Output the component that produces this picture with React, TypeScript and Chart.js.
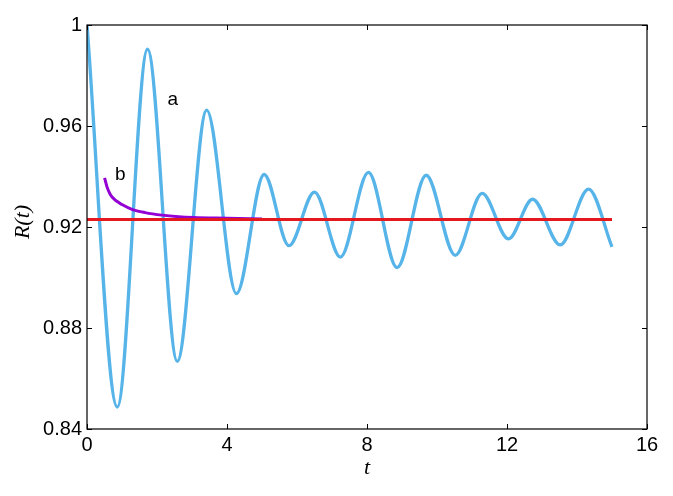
import React, { useEffect, useRef } from "react";
import { Chart, registerables } from "chart.js";

Chart.register(...registerables);

// Curve a: oscillating R(t) (extrema)
const aT = [0, 0.865, 1.73, 2.58, 3.42, 4.27, 5.06, 5.77, 6.5, 7.24, 8.04, 8.86, 9.69, 10.52, 11.29, 12.04, 12.73, 13.52, 14.33, 15.0];
const aR = [1.0, 0.8487, 0.9904, 0.8668, 0.9663, 0.8936, 0.9408, 0.9126, 0.9338, 0.9081, 0.9416, 0.9039, 0.9405, 0.9088, 0.9333, 0.9153, 0.931, 0.9129, 0.935, 0.9121];

// Curve b: relaxing approximation
const bT = [0.502, 0.571, 0.665, 0.808, 0.999, 1.284, 1.664, 2.14, 2.614, 3.04, 4.0, 5.0];
const bR = [0.9395, 0.9359, 0.9329, 0.9306, 0.9289, 0.927, 0.9257, 0.9247, 0.9241, 0.9238, 0.9235, 0.9232];

// Asymptotic level
const cT = [0, 15];
const cR = [0.923, 0.923];

const xTicks = [0, 4, 8, 12, 16];
const xTickLabels = ["0", "4", "8", "12", "16"];
const yTicks = [0.84, 0.88, 0.92, 0.96, 1.0];
const yTickLabels = ["0.84", "0.88", "0.92", "0.96", "1"];

const xTitle = "t";
const yTitle = "R(t)";

const labels = [
  { text: "a", t: 2.45, r: 0.9705 },
  { text: "b", t: 0.95, r: 0.9405 },
];

const pts = (xs: number[], ys: number[]) => xs.map((x, i) => ({ x, y: ys[i] }));

const framePlugin = {
  id: "frame",
  afterDatasetsDraw(chart: any) {
    const { ctx, chartArea } = chart;
    const xs = chart.scales.x;
    const ys = chart.scales.y;
    const { left, right, top, bottom } = chartArea;
    ctx.save();
    // annotations
    ctx.fillStyle = "#000";
    ctx.font = "19px 'Liberation Sans', Arial, sans-serif";
    ctx.textAlign = "center";
    ctx.textBaseline = "middle";
    labels.forEach((l) => {
      ctx.fillText(l.text, xs.getPixelForValue(l.t), ys.getPixelForValue(l.r));
    });
    // axis titles
    ctx.font = "italic 22px 'Liberation Serif', serif";
    ctx.fillText(xTitle, (left + right) / 2, 468);
    ctx.save();
    ctx.translate(23, 222);
    ctx.rotate(-Math.PI / 2);
    ctx.fillText(yTitle, 0, 0);
    ctx.restore();
    // frame
    ctx.strokeStyle = "#000";
    ctx.lineWidth = 1.2;
    ctx.strokeRect(left, top, right - left, bottom - top);
    const tl = 5;
    ctx.beginPath();
    xTicks.forEach((v) => {
      const px = Math.round(xs.getPixelForValue(v)) + 0.5;
      ctx.moveTo(px, bottom);
      ctx.lineTo(px, bottom - tl);
      ctx.moveTo(px, top);
      ctx.lineTo(px, top + tl);
    });
    yTicks.forEach((v) => {
      const py = Math.round(ys.getPixelForValue(v)) + 0.5;
      ctx.moveTo(left, py);
      ctx.lineTo(left + tl, py);
      ctx.moveTo(right, py);
      ctx.lineTo(right - tl, py);
    });
    ctx.lineWidth = 1;
    ctx.stroke();
    ctx.restore();
  },
};

export default function App() {
  const ref = useRef<HTMLCanvasElement>(null);
  useEffect(() => {
    document.body.style.margin = "0";
    const chart = new Chart(ref.current!, {
      type: "line",
      data: {
        datasets: [
          {
            data: pts(cT, cR),
            borderColor: "#E3191F",
            borderWidth: 3,
            pointRadius: 0,
          },
          {
            data: pts(bT, bR),
            borderColor: "#9400D3",
            borderWidth: 3,
            pointRadius: 0,
            cubicInterpolationMode: "monotone",
          },
          {
            data: pts(aT, aR),
            borderColor: "#56B4E9",
            borderWidth: 3.3,
            pointRadius: 0,
            cubicInterpolationMode: "monotone",
          },
        ],
      },
      options: {
        responsive: false,
        animation: false,
        events: [],
        layout: { padding: { left: 0, top: 25, right: 26, bottom: 0 } },
        plugins: { legend: { display: false }, tooltip: { enabled: false } },
        scales: {
          x: {
            type: "linear",
            min: 0,
            max: 16,
            grid: { display: false, drawTicks: false },
            border: { display: false },
            afterBuildTicks: (s: any) => {
              s.ticks = xTicks.map((v) => ({ value: v }));
            },
            afterFit: (s: any) => {
              s.height = 67;
            },
            ticks: {
              padding: 4,
              color: "#000",
              maxRotation: 0,
              font: { family: "'Liberation Sans', Arial, sans-serif", size: 20 },
              callback: (_v: any, i: number) => xTickLabels[i],
            },
          },
          y: {
            type: "linear",
            min: 0.84,
            max: 1.0,
            grid: { display: false, drawTicks: false },
            border: { display: false },
            afterBuildTicks: (s: any) => {
              s.ticks = yTicks.map((v) => ({ value: v }));
            },
            afterFit: (s: any) => {
              s.width = 87;
            },
            ticks: {
              padding: 5,
              color: "#000",
              font: { family: "'Liberation Sans', Arial, sans-serif", size: 20 },
              callback: (_v: any, i: number) => yTickLabels[i],
            },
          },
        },
      },
      plugins: [framePlugin],
    });
    return () => chart.destroy();
  }, []);
  return (
    <div style={{ width: 673, height: 496 }}>
      <canvas ref={ref} width={673} height={496} style={{ display: "block" }} />
    </div>
  );
}
